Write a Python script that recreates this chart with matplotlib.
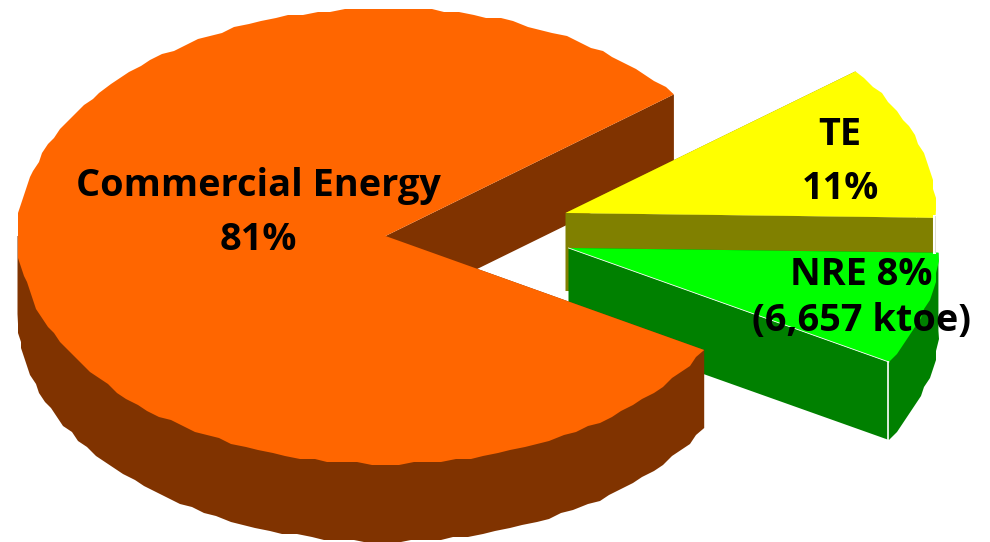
import numpy as np
import matplotlib
matplotlib.use('Agg')
import matplotlib.pyplot as plt

names = ['Commercial Energy', 'TE', 'NRE']
shares = [81, 11, 8]

A, B = 368, 228
DEPTH = 78
START = 38.4  # where the orange slice begins, degrees


def arc(cx, cy, t0, t1, drop=0, rough=True):
    n = max(int(abs(t1 - t0) / 2.2), 2)
    t = np.radians(np.linspace(t0, t1, n))
    x = cx + A * np.cos(t)
    y = cy - B * np.sin(t) + drop
    if rough:
        # the original outline is stepped, not smooth
        x[1:-1] = np.round(x[1:-1] / 3) * 3
        y[1:-1] = np.round((y[1:-1] - drop) / 3) * 3 + drop
    return np.column_stack([x, y])


def side(ax, cx, cy, t0, t1, color):
    bottom = arc(cx, cy, t0, t1, drop=DEPTH)
    a = arc(cx, cy, t0, t0, rough=False)[0]
    b = arc(cx, cy, t1, t1, rough=False)[0]
    pts = np.vstack([[a], bottom, [b], [[cx, cy]]])
    ax.fill(pts[:, 0], pts[:, 1], color=color, lw=0)


def cut_face(ax, cx, cy, t, color, lw=0):
    edge = arc(cx, cy, t, t, rough=False)[0]
    x = [cx, edge[0], edge[0], cx]
    y = [cy, edge[1], edge[1] + DEPTH, cy + DEPTH]
    ax.fill(x, y, color=color, lw=lw)


def top_face(ax, cx, cy, t0, t1, color):
    pts = np.vstack([[cx, cy], arc(cx, cy, t0, t1)])
    ax.fill(pts[:, 0], pts[:, 1], color=color, lw=0)


fig = plt.figure(figsize=(9.9, 5.42), dpi=100)
ax = fig.add_axes([0, 0, 1, 1])
ax.set_xlim(0, 990)
ax.set_ylim(542, 0)
ax.axis('off')

sweep = [s / sum(shares) * 360 for s in shares]
orange_end = START + sweep[0]
te_end = START - sweep[1]
nre_end = te_end - sweep[2]

# orange slice, back face only, the slices overlap it
cut_face(ax, 385.5, 236, START, '#803300')

# the two pulled out slices are a little wider
A = 370

# TE
side(ax, 565.5, 213, START, te_end, '#808000')
cut_face(ax, 565.5, 213, te_end, '#808000')
ax.plot([933.8, 933.8], [216, 252], color='white', lw=2.2)
ax.plot([935.2, 935.2], [216, 252], color='#d8d8c8', lw=0.6)
top_face(ax, 565.5, 213, START, te_end, '#ffff00')

# NRE
side(ax, 568.5, 248, te_end, nre_end, '#008000')
cut_face(ax, 568.5, 248, nre_end, '#008000')
top_face(ax, 568.5, 248, te_end, nre_end, '#00ff00')
corner = arc(568.5, 248, nre_end, nre_end, rough=False)[0]
ax.plot([568.5, corner[0]], [248, corner[1]], color='white', lw=0.6)
ax.plot([corner[0] - 1, corner[0] - 1], [corner[1], corner[1] + DEPTH],
        color='white', lw=1.2)

# orange slice, front
A = 368
side(ax, 385.5, 236, 180, orange_end, '#803300')
top_face(ax, 385.5, 236, START, orange_end, '#ff6600')

font = dict(family='Open Sans', weight='bold', fontsize=27.3, color='black',
            ha='center', va='center')
ax.text(258, 186, names[0], **font)
ax.text(258, 240, '%d%%' % shares[0], **font)
ax.text(840, 135, names[1], **font)
ax.text(840, 189, '%d%%' % shares[1], **font)
ax.text(861, 275, '%s %d%%' % (names[2], shares[2]), **font)
ax.text(861, 321, '(6,657 ktoe)', **font)

fig.savefig('out.png', dpi=100)
